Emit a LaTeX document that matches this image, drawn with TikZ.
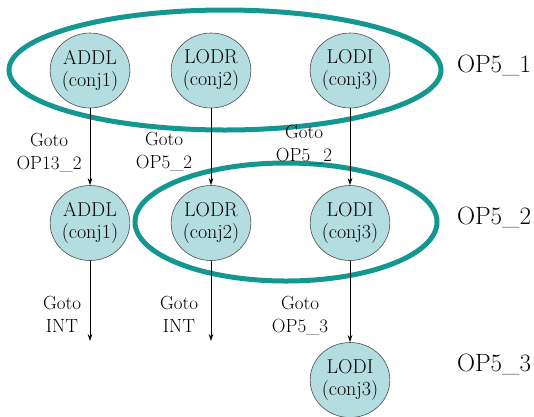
\documentclass[tikz,border=0pt]{standalone}
\usetikzlibrary{shapes.geometric,arrows.meta}
\definecolor{ringteal}{RGB}{20,150,145}
\definecolor{opfill}{RGB}{180,221,224}
\begin{document}
\begin{tikzpicture}[x=1pt,y=-1pt,
  op/.style={ellipse, draw=black!70, line width=0.6pt, fill=opfill,
    minimum width=78pt, minimum height=75pt, inner sep=0pt, align=center,
    font=\fontsize{20}{22}\selectfont},
  grp/.style={draw=ringteal, line width=5pt},
  lbl/.style={align=center, inner sep=0pt, font=\fontsize{19}{23}\selectfont},
  oplabel/.style={inner sep=0pt, anchor=base, font=\fontsize{25}{28}\selectfont},
  arr/.style={-{Stealth[length=7pt,width=4.5pt]}, line width=0.6pt}]
\useasboundingbox (0,0) rectangle (534,416);

% operation groups
\draw[grp] (225,70) ellipse [x radius=216, y radius=60];
\draw[grp] (286,222) ellipse [x radius=151, y radius=59];

% instructions
\node[op] (a1) at (90,70.5)  {ADDL\\(conj1)};
\node[op] (a2) at (211,70.5) {LODR\\(conj2)};
\node[op] (a3) at (350,70.5) {LODI\\(conj3)};
\node[op] (b1) at (90,223)   {ADDL\\(conj1)};
\node[op] (b2) at (211,223)  {LODR\\(conj2)};
\node[op] (b3) at (350,223)  {LODI\\(conj3)};
\node[op] (c3) at (350,380)  {LODI\\(conj3)};

% group names
\node[oplabel] (g1) at (494,72)  {OP5\_1};
\node[oplabel] (g2) at (494,224) {OP5\_2};
\node[oplabel] (g3) at (494,371) {OP5\_3};

% branch targets
\coordinate (e1) at (90,341);
\coordinate (e2) at (211,341);

\draw[arr] (a1) -- (b1);
\draw[arr] (a2) -- (b2);
\draw[arr] (a3) -- (b3);
\draw[arr] (b1) -- (e1);
\draw[arr] (b2) -- (e2);
\draw[arr] (b3) -- (c3);

% branch labels
\node[lbl] (t1) at (49,153)   {Goto\\OP13\_2};
\node[lbl] (t2) at (164,151.5) {Goto\\OP5\_2};
\node[lbl] (t3) at (304,144.5) {Goto\\OP5\_2};
\node[lbl] (t4) at (62,314)   {Goto\\INT};
\node[lbl] (t5) at (179,314)  {Goto\\INT};
\node[lbl] (t6) at (300,315.5) {Goto\\OP5\_3};
\end{tikzpicture}
\end{document}
